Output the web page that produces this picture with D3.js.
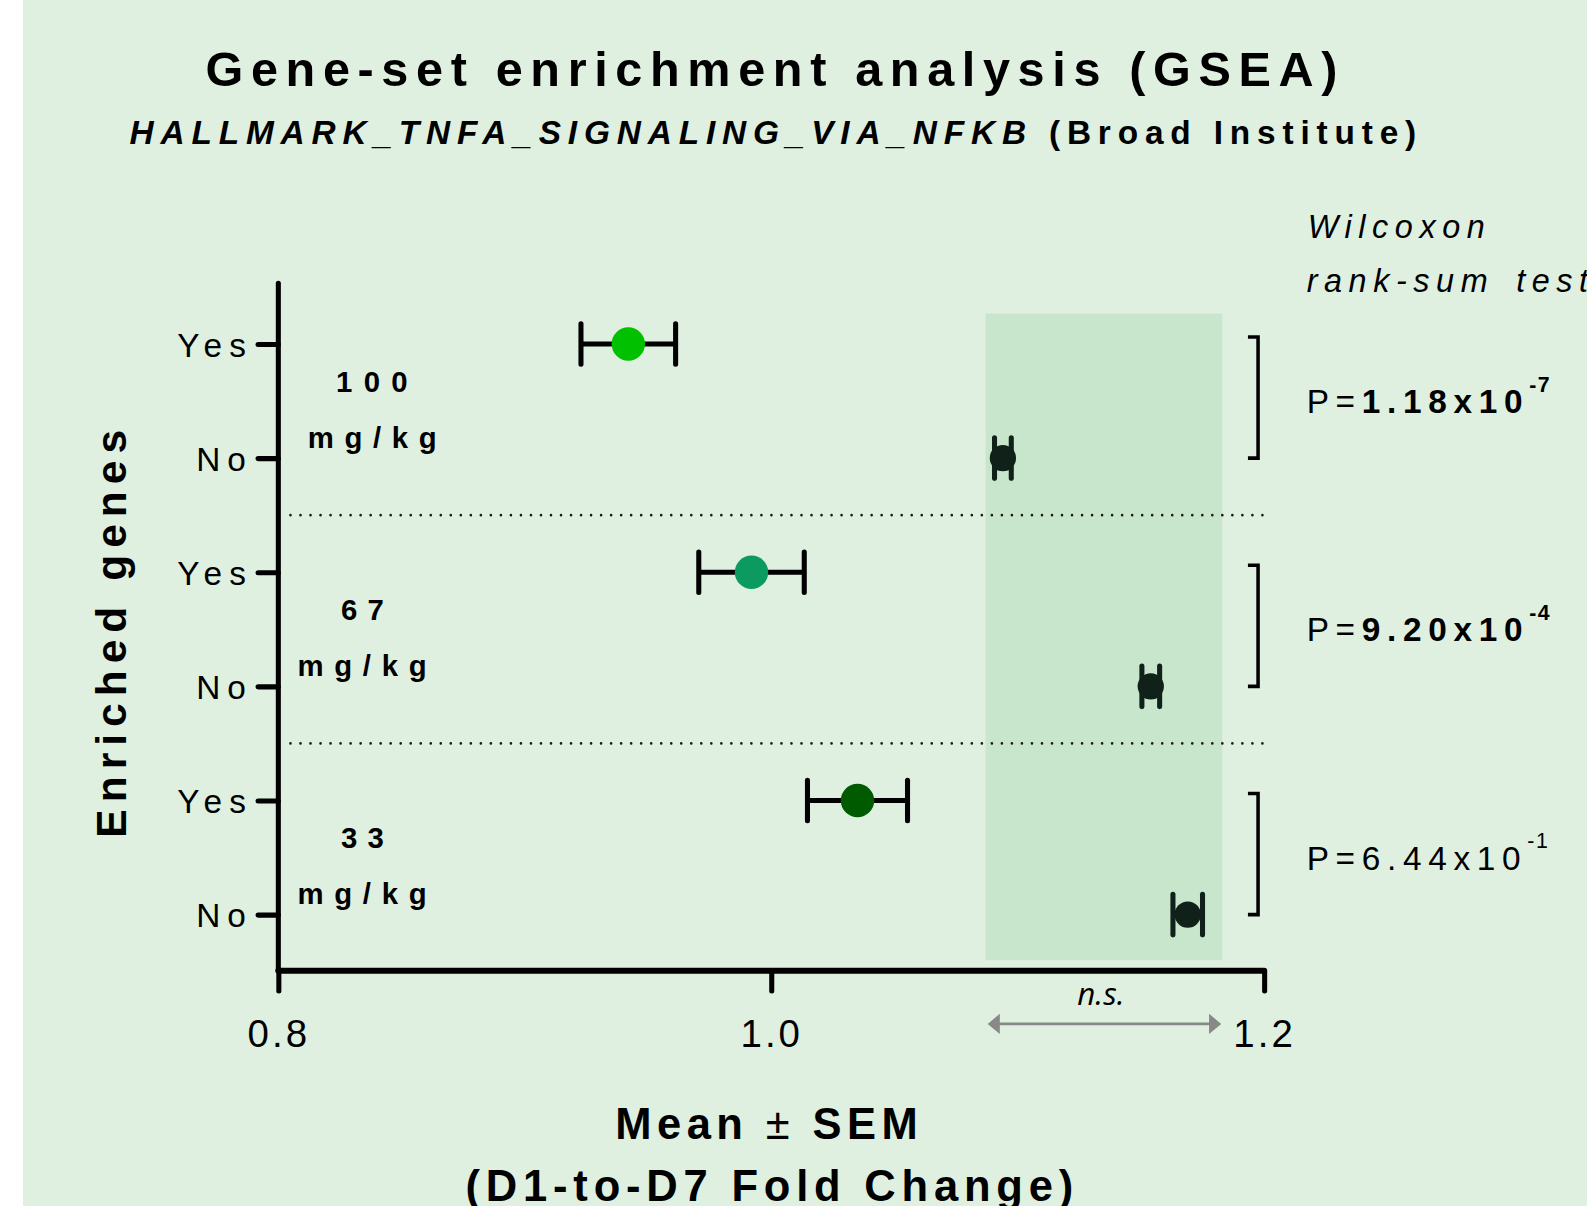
<!DOCTYPE html>
<html><head><meta charset="utf-8">
<script src="https://cdn.jsdelivr.net/npm/d3@7"></script>
<style>
html,body{margin:0;padding:0;background:#fff;overflow:hidden}
svg{display:block}
</style></head>
<body>
<script>
// ---------- data ----------
const rowIds = ["100-Yes","100-No","67-Yes","67-No","33-Yes","33-No"];
const yTickLabels = ["Yes","No","Yes","No","Yes","No"];
const means = [0.942, 1.094, 0.992, 1.154, 1.035, 1.169];
const sems  = [0.0192, 0.0034, 0.0214, 0.0036, 0.0203, 0.0060];
const enriched = [true,false,true,false,true,false];
const pointColors = ["#00c000","#10211a","#0b9a60","#10211a","#005a00","#10211a"];
const doseLabels = ["100","67","33"];
const doseUnit = "mg/kg";
const pMantissa = ["1.18","9.20","6.44"];
const pExponent = ["-7","-4","-1"];
const pBold = [true,true,false];
const xTicks = [0.8, 1.0, 1.2];
const xDomain = [0.8, 1.2];
const nsRange = [1.087, 1.183];

// ---------- setup ----------
const W = 1568, H = 1192;
const svg = d3.select("body").append("svg")
  .attr("width",1587).attr("height",1206)
  .attr("viewBox",`0 0 ${W} ${H}`).attr("preserveAspectRatio","none");

const bg = "#dff0e1";
svg.append("rect").attr("x",22.7).attr("y",0).attr("width",W).attr("height",H).attr("fill",bg);

const x = d3.scaleLinear().domain(xDomain).range([275,1249]);
const y = d3.scalePoint().domain(rowIds).range([340,904]);

const SANS = "'Liberation Sans', Arial, sans-serif";

function fit(sel, target){
  sel.each(function(){
    const t = d3.select(this);
    t.attr("letter-spacing",0);
    const L = this.getComputedTextLength();
    const n = this.getNumberOfChars();
    t.attr("letter-spacing",((target-L)/n).toFixed(2));
  });
  return sel;
}

// ---------- n.s. band ----------
svg.append("rect")
  .attr("x",x(nsRange[0])).attr("width",x(nsRange[1])-x(nsRange[0]))
  .attr("y",y(rowIds[0])-30).attr("height",y(rowIds[5])+45-(y(rowIds[0])-30))
  .attr("fill","#c8e6cc");

// ---------- title ----------
const t1 = svg.append("text").attr("x",203).attr("y",85)
  .attr("font-family",SANS).attr("font-weight","bold").attr("font-size",48)
  .text("Gene-set enrichment analysis (GSEA)");
fit(t1,1126);

const t2 = svg.append("text").attr("x",128).attr("y",142)
  .attr("font-family",SANS).attr("font-weight","bold").attr("font-size",33);
t2.append("tspan").attr("font-style","italic").text("HALLMARK_TNFA_SIGNALING_VIA_NFKB");
t2.append("tspan").text(" (Broad Institute)");
fit(t2,1278);

// ---------- separators ----------
const sepY = [ (y(rowIds[1])+y(rowIds[2]))/2, (y(rowIds[3])+y(rowIds[4]))/2 ];
svg.selectAll(".sep").data(sepY).join("line")
  .attr("x1",287).attr("x2",1248).attr("y1",d=>d).attr("y2",d=>d)
  .attr("stroke","#1a1a1a").attr("stroke-width",2.6)
  .attr("stroke-linecap","round").attr("stroke-dasharray","0 9.9");

// ---------- axes ----------
const axY = 959.5;
const gx = svg.append("g").attr("transform",`translate(0,${axY})`)
  .call(d3.axisBottom(x).tickValues(xTicks).tickFormat(d3.format(".1f")).tickSize(20).tickSizeOuter(0));
gx.select(".domain").remove();
gx.selectAll(".tick line").attr("stroke","#000").attr("stroke-width",5).attr("stroke-linecap","round");
gx.selectAll(".tick text").attr("font-family",SANS).attr("font-size",38).attr("fill","#000")
  .attr("dy",0).attr("y",75).attr("letter-spacing",3);
svg.append("line").attr("x1",x(xDomain[0])).attr("x2",x(xDomain[1])).attr("y1",axY).attr("y2",axY)
  .attr("stroke","#000").attr("stroke-width",6).attr("stroke-linecap","round");

const gy = svg.append("g").attr("transform",`translate(${x(xDomain[0])},0)`)
  .call(d3.axisLeft(y).tickFormat((d,i)=>yTickLabels[i]).tickSize(20).tickSizeOuter(0));
gy.select(".domain").remove();
gy.selectAll(".tick line").attr("stroke","#000").attr("stroke-width",5).attr("stroke-linecap","round");
gy.selectAll(".tick text").attr("font-family",SANS).attr("font-size",33).attr("fill","#000")
  .attr("x",-25).attr("dy","0.36em").attr("letter-spacing",7);
svg.append("line").attr("x1",x(xDomain[0])).attr("x2",x(xDomain[0])).attr("y1",280).attr("y2",axY)
  .attr("stroke","#000").attr("stroke-width",5).attr("stroke-linecap","round");

// ---------- dose labels ----------
doseLabels.forEach((d,i)=>{
  const yy = (y(rowIds[2*i])+y(rowIds[2*i+1]))/2;
  const cx = i===0 ? 373 : 363;
  const a = svg.append("text").attr("x",cx).attr("y",yy-9).attr("text-anchor","middle")
    .attr("font-family",SANS).attr("font-weight","bold").attr("font-size",29).text(d);
  fit(a, d.length===3?82:52);
  const b = svg.append("text").attr("x",cx).attr("y",yy+46).attr("text-anchor","middle")
    .attr("font-family",SANS).attr("font-weight","bold").attr("font-size",29).text(doseUnit);
  fit(b,138);
});

// ---------- error bars & points ----------
const marks = svg.append("g");
rowIds.forEach((id,i)=>{
  const yy = y(id), lo = x(means[i]-sems[i]), hi = x(means[i]+sems[i]);
  const g = marks.append("g");
  const col = enriched[i] ? "#000" : "#10211a";
  g.append("line").attr("x1",lo).attr("x2",hi).attr("y1",yy).attr("y2",yy)
    .attr("stroke",col).attr("stroke-width",5);
  [lo,hi].forEach(v=>g.append("line").attr("x1",v).attr("x2",v).attr("y1",yy-20).attr("y2",yy+20)
    .attr("stroke",col).attr("stroke-width",5).attr("stroke-linecap","round"));
  g.append("circle").attr("cx",x(means[i])).attr("cy",yy).attr("r",enriched[i]?16.5:13)
    .attr("fill",pointColors[i]);
});

// ---------- n.s. arrow ----------
const arY = 1012;
const ax0 = x(nsRange[0])+2, ax1 = x(nsRange[1])-1;
svg.append("line").attr("x1",ax0+8).attr("x2",ax1-8).attr("y1",arY).attr("y2",arY)
  .attr("stroke","#888").attr("stroke-width",2.5);
svg.append("path").attr("d",`M${ax0},${arY} L${ax0+12},${arY-10} L${ax0+12},${arY+10} Z`).attr("fill","#888");
svg.append("path").attr("d",`M${ax1},${arY} L${ax1-12},${arY-10} L${ax1-12},${arY+10} Z`).attr("fill","#888");
svg.append("text").attr("x",(x(nsRange[0])+x(nsRange[1]))/2-3).attr("y",993).attr("text-anchor","middle")
  .attr("font-family","'Open Sans', sans-serif").attr("font-style","italic").attr("font-size",31).text("n.s.");

// ---------- brackets & p-values ----------
const bx = 1243;
[0,1,2].forEach(i=>{
  const yT = y(rowIds[2*i])-7, yB = y(rowIds[2*i+1]);
  svg.append("path").attr("d",`M${bx-10},${yT} H${bx} V${yB} H${bx-10}`)
    .attr("fill","none").attr("stroke","#000").attr("stroke-width",3.5);
  const mid = (y(rowIds[2*i])+y(rowIds[2*i+1]))/2;
  const t = svg.append("text").attr("x",1291).attr("y",mid+12)
    .attr("font-family",SANS).attr("font-size",33).attr("letter-spacing",6.6);
  t.append("tspan").text("P=");
  t.append("tspan").attr("font-weight",pBold[i]?"bold":"normal").text(pMantissa[i]+"x10");
  t.append("tspan").attr("font-size",21).attr("font-weight",pBold[i]?"bold":"normal")
    .attr("dy",-21).attr("dx",0).attr("letter-spacing",1.5).text(pExponent[i]);
});

svg.append("text").attr("x",1292).attr("y",235.5)
  .attr("font-family",SANS).attr("font-style","italic").attr("font-size",32).attr("letter-spacing",6.5)
  .text("Wilcoxon");
const rk = svg.append("text").attr("x",1291).attr("y",289)
  .attr("font-family",SANS).attr("font-style","italic").attr("font-size",32).attr("letter-spacing",6.5);
rk.append("tspan").text("rank-sum");
rk.append("tspan").attr("x",1498).text("test");

// ---------- axis titles ----------
const xt1 = svg.append("text").attr("x",608).attr("y",1126)
  .attr("font-family",SANS).attr("font-weight","bold").attr("font-size",43);
xt1.append("tspan").text("Mean ");
xt1.append("tspan").attr("font-weight","normal").text("\u00b1");
xt1.append("tspan").text(" SEM");
fit(xt1,304);
const xt2 = svg.append("text").attr("x",460).attr("y",1187)
  .attr("font-family",SANS).attr("font-weight","bold").attr("font-size",43).text("(D1-to-D7 Fold Change)");
fit(xt2,606);

const yt = svg.append("text").attr("transform","translate(124,828) rotate(-90)")
  .attr("font-family",SANS).attr("font-weight","bold").attr("font-size",42).text("Enriched genes");
fit(yt,410);
</script>
</body></html>
